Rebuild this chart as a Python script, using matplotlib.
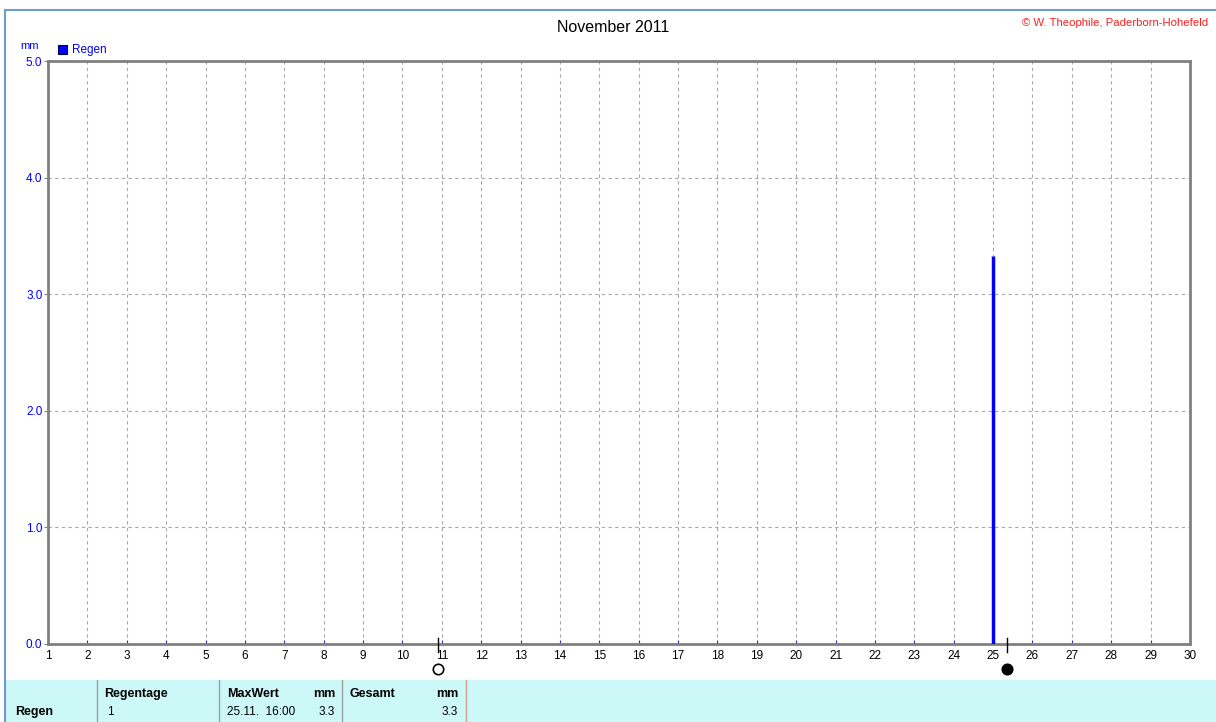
import numpy as np
import matplotlib.pyplot as plt
from matplotlib.lines import Line2D
from matplotlib.patches import Rectangle
import matplotlib.transforms as mtransforms

# ===========================================
# data
days = np.arange(1, 31)
rain_day = [25]
rain_mm = [3.33]
full_moon = 10.9
new_moon = 25.35

title = "November 2011"
credit = "\u00a9 W. Theophile, Paderborn-Hohefeld"

W, H = 1216, 722
fig = plt.figure(figsize=(W / 100, H / 100), dpi=100)
plt.rcParams['font.family'] = ['Liberation Sans', 'DejaVu Sans']

def fx(px):
    return px / W

def fy(py):
    return 1 - py / H

ax = fig.add_axes([fx(48), fy(644), fx(1190) - fx(48), fy(61) - fy(644)])

### plot the rain bar
ax.vlines(rain_day, 0, rain_mm, color='#0000ff', lw=2.5, zorder=3)

ax.set_xlim(1, 30)
ax.set_ylim(0, 5)
ax.set_xticks(days)
ax.set_xticklabels([str(d) for d in days], fontsize=8.5)
ax.set_yticks(np.arange(0, 5.1, 1.0))
ax.set_yticklabels(["%.1f" % v for v in np.arange(0, 5.1, 1.0)], fontsize=8.5, color='#0000ff')
ax.tick_params(axis='x', length=3, direction='in', color='#3030c0', pad=4)
ax.tick_params(axis='y', length=3, direction='out', color='#808080', pad=1)
ax.grid(True, ls=(0, (3, 3)), color='#a8a8a8', lw=0.8)
for s in ax.spines.values():
    s.set_color('#808080')
    s.set_linewidth(2)

### moon phases below the axis
trans = mtransforms.blended_transform_factory(ax.transData, ax.transAxes)
for mx, face in [(full_moon, 'white'), (new_moon, 'black')]:
    ax.plot([mx, mx], [0.0103, -0.0137], color='black', lw=1, transform=trans, clip_on=False, zorder=5)
    ax.plot([mx], [-0.043], marker='o', ms=7.5, mfc=face, mec='black', mew=1.2,
            transform=trans, clip_on=False, zorder=5)

### labels
fig.text(fx(613), fy(27), title, ha='center', va='center', fontsize=11.5)
fig.text(fx(1208), fy(23), credit, ha='right', va='center', fontsize=8.2, color='#ff2020')
fig.text(fx(30), fy(46), "mm", ha='center', va='center', fontsize=8, color='#0000ff')
fig.patches.append(Rectangle((fx(58), fy(54)), fx(9), fy(45) - fy(54), transform=fig.transFigure,
                             facecolor='#0000ff', edgecolor='#000040', lw=0.8))
fig.text(fx(72), fy(50), "Regen", ha='left', va='center', fontsize=8.5, color='#0000ff')

### outer frame
fig.add_artist(Line2D([fx(5), fx(5)], [0, fy(10)], color='#6d9bd1', lw=1.5, transform=fig.transFigure))
fig.add_artist(Line2D([fx(5), 1], [fy(10), fy(10)], color='#6d9bd1', lw=1.5, transform=fig.transFigure))

### summary table
fig.patches.append(Rectangle((fx(6), 0), 1 - fx(6), fy(680), transform=fig.transFigure,
                             facecolor='#ccf8f8', edgecolor='none'))
for sx, col in [(97, '#a0a0a0'), (219, '#a0a0a0'), (342, '#a0a0a0'), (466, '#d0a090')]:
    fig.add_artist(Line2D([fx(sx), fx(sx)], [0, fy(680)], color=col, lw=1, transform=fig.transFigure))

bold = dict(fontsize=9, fontweight='bold', va='center')
norm = dict(fontsize=8.5, va='center')
fig.text(fx(15), fy(712), "Regen", ha='left', **bold)
fig.text(fx(104), fy(694), "Regentage", ha='left', **bold)
fig.text(fx(107), fy(712), "1", ha='left', **norm)
fig.text(fx(227), fy(694), "MaxWert", ha='left', **bold)
fig.text(fx(335), fy(694), "mm", ha='right', **bold)
fig.text(fx(227), fy(712), "25.11.  16:00", ha='left', **norm)
fig.text(fx(335), fy(712), "3.3", ha='right', **norm)
fig.text(fx(349), fy(694), "Gesamt", ha='left', **bold)
fig.text(fx(458), fy(694), "mm", ha='right', **bold)
fig.text(fx(458), fy(712), "3.3", ha='right', **norm)

plt.savefig("out.png", dpi=100)
